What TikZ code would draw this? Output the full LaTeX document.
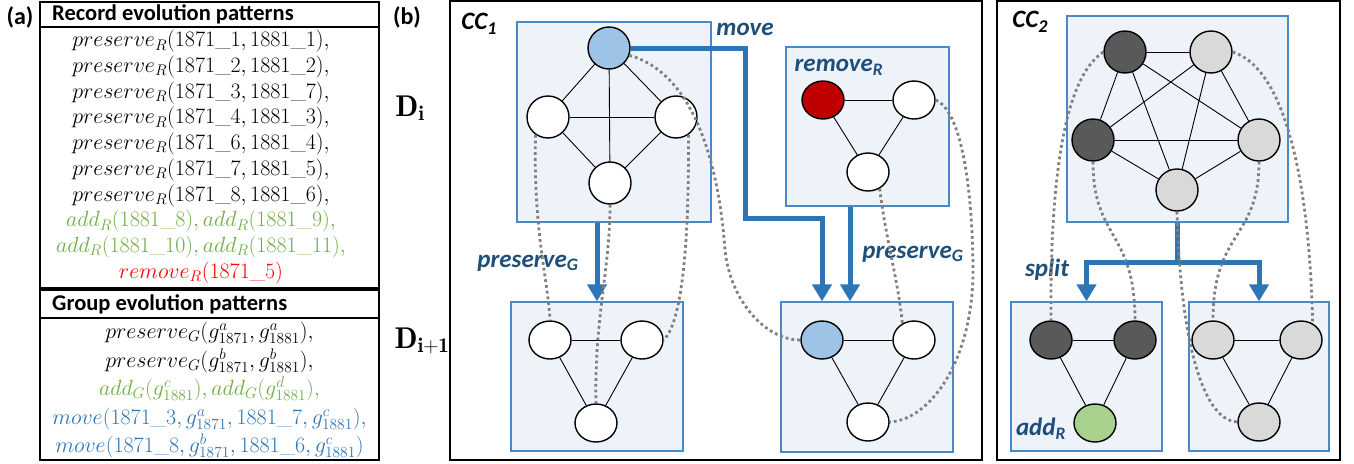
\RequirePackage{fix-cm}
\documentclass[tikz,border=0pt]{standalone}
\usepackage{fontspec}
\setsansfont{Carlito}
\usetikzlibrary{arrows.meta,shapes.geometric}

\definecolor{evoblue}{HTML}{2E75B6}
\definecolor{actblue}{HTML}{1F4E79}
\definecolor{grpline}{HTML}{4A89C8}
\definecolor{grpfill}{HTML}{EEF3FA}
\definecolor{evogreen}{HTML}{70AD47}
\definecolor{evored}{HTML}{FF0000}
\definecolor{movefill}{HTML}{9DC3E6}
\definecolor{delfill}{HTML}{C00000}
\definecolor{addfill}{HTML}{A9D18E}
\definecolor{darkrec}{HTML}{595959}
\definecolor{lightrec}{HTML}{D9D9D9}
\definecolor{linkgray}{HTML}{808080}

\newcommand{\ccsub}[1]{\raisebox{-0.22em}{\fontsize{18}{20}\selectfont #1}}

\tikzset{
  panel/.style={draw=black,line width=2pt},
  grp/.style={draw=grpline,fill=grpfill,line width=1.3pt,inner sep=0pt},
  rec/.style={circle,draw,line width=1.4pt,fill=white,inner sep=0pt,minimum size=42pt},
  recl/.style={ellipse,draw,line width=1.4pt,fill=white,inner sep=0pt,minimum width=42pt,minimum height=38pt},
  flow/.style={draw=evoblue,line width=5pt,-{Triangle[length=17pt,width=19pt]}},
  trunk/.style={draw=evoblue,line width=5pt},
  link/.style={draw=linkgray,line width=2.8pt,dash pattern=on 2.8pt off 3pt},
  tag/.style={inner sep=0pt,font=\sffamily\bfseries\fontsize{24}{28}\selectfont},
  head/.style={inner sep=0pt,anchor=west,font=\sffamily\bfseries\fontsize{22.5}{26}\selectfont},
  list/.style={inner sep=0pt,align=center},
  act/.style={inner sep=0pt,text=actblue,font=\sffamily\bfseries\itshape\fontsize{25}{28}\selectfont},
  cc/.style={inner sep=0pt,font=\sffamily\bfseries\itshape\fontsize{25}{28}\selectfont},
  level/.style={inner sep=0pt,font=\fontsize{30}{34}\selectfont}
}

\begin{document}
\begin{tikzpicture}[x=1pt,y=-1pt]
  \useasboundingbox (0,0) rectangle (1354,463);

  \node[tag] (taga) at (20,17) {(a)};
  \draw[panel] (40,2) rectangle (379,288);
  \draw[panel] (40,27) -- (379,27);
  \node[head] (rechead) at (52,14) {Record evolution patterns};
  \node[list,font=\fontsize{22}{25.7}\selectfont] (reclist) at (201,157) {
    $preserve_R(1871\_1,1881\_1),$\\
    $preserve_R(1871\_2,1881\_2),$\\
    $preserve_R(1871\_3,1881\_7),$\\
    $preserve_R(1871\_4,1881\_3),$\\
    $preserve_R(1871\_6,1881\_4),$\\
    $preserve_R(1871\_7,1881\_5),$\\
    $preserve_R(1871\_8,1881\_6),$\\
    \textcolor{evogreen}{$add_R(1881\_8), add_R(1881\_9),$}\\
    \textcolor{evogreen}{$add_R(1881\_10), add_R(1881\_11),$}\\
    \textcolor{evored}{$remove_R(1871\_5)$}};

  \draw[panel] (40,290) rectangle (379,460);
  \draw[panel] (40,318) -- (379,318);
  \node[head] (grphead) at (52,304) {Group evolution patterns};
  \node[list,font=\fontsize{22}{28.5}\selectfont] (grplist) at (209.5,390) {
    $preserve_G(g^a_{1871}, g^a_{1881}),$\\
    $preserve_G(g^b_{1871}, g^b_{1881}),$\\
    \textcolor{evogreen}{$add_G(g^c_{1881}), add_G(g^d_{1881}),$}\\
    \textcolor{evoblue}{$move(1871\_3, g^a_{1871}, 1881\_7, g^c_{1881}),$}\\
    \textcolor{evoblue}{$move(1871\_8, g^b_{1871}, 1881\_6, g^c_{1881})$}};

  \node[tag] (tagb) at (407,17) {(b)};
  \node[level] (di) at (410,108) {$\mathbf{D}_{\mathbf{i}}$};
  \node[level] (dnext) at (422,341) {$\mathbf{D}_{\mathbf{i+1}}$};

  \draw[panel] (450,1) rectangle (982,460);
  \node[cc] (cc1) at (479,24) {CC\ccsub{1}};
  \node[grp,minimum width=194pt,minimum height=200pt] (gA) at (614,122) {};
  \node[grp,minimum width=163pt,minimum height=159pt] (gB) at (867.5,126.5) {};
  \node[grp,minimum width=172pt,minimum height=149pt] (gC) at (597,376.5) {};
  \node[grp,minimum width=172pt,minimum height=150pt] (gD) at (867,377) {};

  \draw[panel] (997,1) rectangle (1340,460);
  \node[cc] (cc2) at (1030,22) {CC\ccsub{2}};
  \node[grp,minimum width=221pt,minimum height=206pt] (gE) at (1177.5,119) {};
  \node[grp,minimum width=151pt,minimum height=149pt] (gF) at (1086.5,376.5) {};
  \node[grp,minimum width=140pt,minimum height=149pt] (gG) at (1259,376.5) {};

  \draw
    (609,48) node[rec,fill=movefill] (a1) {}
    (548,117) node[rec] (a2) {}
    (676,117) node[rec] (a3) {}
    (610,183) node[rec] (a4) {}
    (823,100) node[recl,fill=delfill] (b1) {}
    (914,100) node[recl] (b2) {}
    (868,172) node[recl] (b3) {}
    (550,340) node[recl] (c1) {}
    (642,340) node[recl] (c2) {}
    (596,423) node[recl] (c3) {}
    (822,340) node[recl,fill=movefill] (d1) {}
    (914,340) node[recl] (d2) {}
    (868,422) node[recl] (d3) {};
  \draw
    (1125,52) node[rec,fill=darkrec] (e1) {}
    (1211,52) node[rec,fill=lightrec] (e2) {}
    (1093,140) node[rec,fill=darkrec] (e3) {}
    (1259,140) node[rec,fill=lightrec] (e4) {}
    (1177,190) node[rec,fill=lightrec] (e5) {}
    (1051,340) node[recl,fill=darkrec] (f1) {}
    (1135,340) node[recl,fill=darkrec] (f2) {}
    (1095,423) node[recl,fill=addfill] (f3) {}
    (1213,340) node[recl,fill=lightrec] (g1) {}
    (1301,340) node[recl,fill=lightrec] (g2) {}
    (1259,422) node[recl,fill=lightrec] (g3) {};

  \begin{scope}[line width=0.9pt]
    \draw (a1) to (a2);
    \draw (a1) to (a3);
    \draw (a1) to (a4);
    \draw (a2) to (a3);
    \draw (a2) to (a4);
    \draw (a3) to (a4);
    \draw (b1) to (b2);
    \draw (b1) to (b3);
    \draw (b2) to (b3);
    \draw (c1) to (c2);
    \draw (c1) to (c3);
    \draw (c2) to (c3);
    \draw (d1) to (d2);
    \draw (d1) to (d3);
    \draw (d2) to (d3);
    \draw (e1) to (e2);
    \draw (e1) to (e3);
    \draw (e1) to (e4);
    \draw (e1) to (e5);
    \draw (e2) to (e3);
    \draw (e2) to (e4);
    \draw (e2) to (e5);
    \draw (e3) to (e4);
    \draw (e3) to (e5);
    \draw (e4) to (e5);
    \draw (f1) to (f2);
    \draw (f1) to (f3);
    \draw (f2) to (f3);
    \draw (g1) to (g2);
    \draw (g1) to (g3);
    \draw (g2) to (g3);
  \end{scope}

  \coordinate (turn) at (745,218);
  \draw[flow] (a1.east) -| (turn) -| (d1 |- gD.north);
  \draw[flow] (gA.south -| gC.north) -- (gC.north);
  \draw[flow] ([xshift=-17.5pt]gB.south) -- ([xshift=-17.5pt]gB.south |- gD.north);
  \coordinate (fork) at ([yshift=-40pt]gE.south);
  \draw[trunk] (gE.south) -- (fork);
  \draw[flow] (fork) -| (gF.north);
  \draw[flow] (fork) -| (gG.north);

  \node[act] (lmove) at (745,29) {move};
  \node[act] (lremove) at (839,67) {remove\textsubscript{R}};
  \node[act] (lkeep1) at (528,263) {preserve\textsubscript{G}};
  \node[act] (lkeep2) at (913,254) {preserve\textsubscript{G}};
  \node[act] (lsplit) at (1047,270) {split};
  \node[act] (ladd) at (1041,429) {add\textsubscript{R}};

  \begin{scope}[link]
    \draw (a2.235) .. controls (533,230) and (548,280) .. (c1.north);
    \draw (a4.south) .. controls (610,270) and (594,320) .. (c3.north);
    \draw (a3.-55) .. controls (689,230) and (684,320) .. (c2.east);
    \draw (a1.-20) .. controls (700,75) and (720,180) .. (725,250)
      .. controls (730,300) and (765,340) .. (d1.west);
    \draw (b3.-55) .. controls (886,240) and (898,280) .. (d2.125);
    \draw (b2.east) .. controls (960,110) and (972,180) .. (973,267)
      .. controls (974,360) and (930,420) .. (d3.east);
    \draw (e1.west) .. controls (1060,80) and (1050,200) .. (f1.north);
    \draw (e3.south) .. controls (1093,240) and (1135,230) .. (f2.north);
    \draw (e5.south) .. controls (1180,330) and (1200,420) .. (g3.west);
    \draw (e4.south) .. controls (1259,240) and (1213,230) .. (g1.north);
    \draw (e2.east) .. controls (1290,70) and (1310,200) .. (g2.55);
  \end{scope}
\end{tikzpicture}
\end{document}
